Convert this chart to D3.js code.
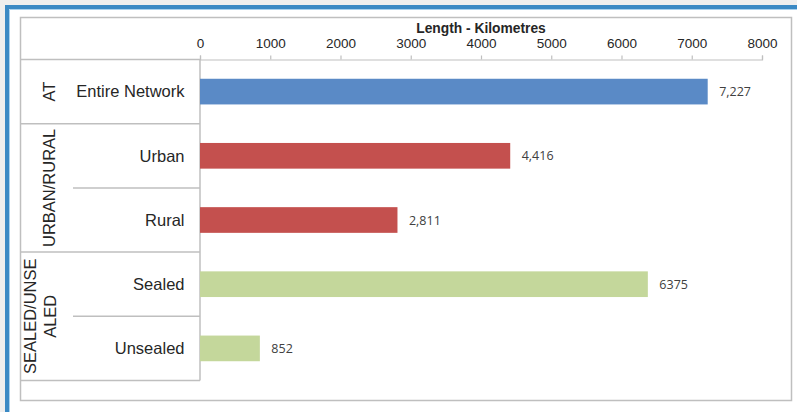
<!DOCTYPE html>
<html>
<head>
<meta charset="utf-8">
<script src="https://cdn.jsdelivr.net/npm/d3@7"></script>
<style>
  html, body { margin: 0; padding: 0; background: #ffffff; }
  svg { display: block; }
</style>
</head>
<body>
<svg id="chart" width="797" height="412"></svg>
<script>
// Road network length by category (km)
const categories = ["Entire Network", "Urban", "Rural", "Sealed", "Unsealed"];
const values = [7227, 4416, 2811, 6375, 852];
const valueLabels = ["7,227", "4,416", "2,811", "6375", "852"];
const seriesGroup = ["AT", "URBAN/RURAL", "URBAN/RURAL", "SEALED/UNSEALED", "SEALED/UNSEALED"];
const groups = ["AT", "URBAN/RURAL", "SEALED/UNSEALED"];
const groupLabelLines = [["AT"], ["URBAN/RURAL"], ["SEALED/UNSE", "ALED"]];
const groupColors = ["#5A8AC6", "#C4504E", "#C4D79B"];
const xTicks = [0, 1000, 2000, 3000, 4000, 5000, 6000, 7000, 8000];
const axisTitle = "Length - Kilometres";

const svg = d3.select("#chart");
const lineColor = "#bfbfbf";

// page frame
svg.append("rect").attr("width", 797).attr("height", 412).attr("fill", "#eeeeee");
svg.append("rect").attr("x", 5).attr("y", 5).attr("width", 792).attr("height", 407).attr("fill", "#ffffff");
svg.append("path").attr("d", "M5,7H797M7,5V412").attr("stroke", "#3a89c4").attr("stroke-width", 4).attr("fill", "none");
svg.append("path").attr("d", "M9.5,9.5H797M9.5,9.5V412").attr("stroke", "#a9d0ec").attr("stroke-width", 1).attr("fill", "none");

// chart area border
svg.append("rect")
  .attr("x", 20.5).attr("y", 17.5).attr("width", 771).attr("height", 383)
  .attr("fill", "#ffffff").attr("stroke", lineColor).attr("stroke-width", 1.5);

const x = d3.scaleLinear().domain([0, 8000]).range([200, 762]);
const y = d3.scaleBand().domain(categories).range([59.5, 380.5]).padding(0);
const barH = y.bandwidth() * 0.4;

// top axis
const axis = svg.append("g")
  .attr("transform", "translate(0,59.5)")
  .call(d3.axisTop(x).tickValues(xTicks).tickSize(4).tickPadding(7.5).tickFormat(d3.format("d")));
axis.select(".domain").attr("stroke", lineColor).attr("stroke-width", 1.2);
axis.selectAll(".tick line").attr("stroke", lineColor).attr("stroke-width", 1.2);
axis.selectAll(".tick text")
  .attr("font-family", "'Liberation Sans', Arial, sans-serif")
  .attr("font-size", 13.5).attr("fill", "#262626");

svg.append("text")
  .attr("x", (x(0) + x(8000)) / 2).attr("y", 32.5)
  .attr("text-anchor", "middle")
  .attr("font-family", "'Liberation Sans', Arial, sans-serif")
  .attr("font-weight", "bold").attr("font-size", 13.8).attr("fill", "#262626")
  .text(axisTitle);

// category table lines
const tbl = svg.append("g").attr("stroke", lineColor).attr("stroke-width", 1.5).attr("fill", "none");
tbl.append("line").attr("x1", 20).attr("x2", 200).attr("y1", 59.5).attr("y2", 59.5);
tbl.append("line").attr("x1", 200).attr("x2", 200).attr("y1", 59.5).attr("y2", 380.5);
groups.forEach(g => {
  const members = categories.filter((c, i) => seriesGroup[i] === g);
  const bottom = y(members[members.length - 1]) + y.bandwidth();
  tbl.append("line").attr("x1", 20).attr("x2", 200).attr("y1", bottom).attr("y2", bottom);
  members.slice(0, -1).forEach(c => {
    const yy = y(c) + y.bandwidth();
    tbl.append("line").attr("x1", 73).attr("x2", 200).attr("y1", yy).attr("y2", yy);
  });
});

// category labels
svg.append("g").selectAll("text").data(categories).join("text")
  .attr("x", 184.5)
  .attr("y", d => y(d) + y.bandwidth() / 2)
  .attr("dy", "0.35em")
  .attr("text-anchor", "end")
  .attr("font-family", "'Liberation Sans', Arial, sans-serif")
  .attr("font-size", 16.5).attr("fill", "#262626")
  .text(d => d);

// group labels (rotated)
groups.forEach((g, gi) => {
  const members = categories.filter((c, i) => seriesGroup[i] === g);
  const top = y(members[0]);
  const bottom = y(members[members.length - 1]) + y.bandwidth();
  const cy = (top + bottom) / 2;
  const lines = groupLabelLines[gi];
  const lh = 20;
  lines.forEach((ln, li) => {
    const cx = lines.length === 1 ? 49 : 30 + li * lh;
    svg.append("text")
      .attr("transform", `translate(${cx},${cy}) rotate(-90)`)
      .attr("dy", "0.35em")
      .attr("text-anchor", "middle")
      .attr("font-family", "'Liberation Sans', Arial, sans-serif")
      .attr("font-size", 16.5).attr("fill", "#262626")
      .text(ln);
  });
});

// bars
const colorOf = i => groupColors[groups.indexOf(seriesGroup[i])];
svg.append("g").selectAll("rect").data(values).join("rect")
  .attr("x", x(0))
  .attr("y", (d, i) => y(categories[i]) + (y.bandwidth() - barH) / 2)
  .attr("width", d => x(d) - x(0))
  .attr("height", barH)
  .attr("fill", (d, i) => colorOf(i));

// value labels
svg.append("g").selectAll("text").data(values).join("text")
  .attr("x", d => x(d) + 11.5)
  .attr("y", (d, i) => y(categories[i]) + y.bandwidth() / 2)
  .attr("dy", "0.36em")
  .attr("font-family", "'Open Sans', sans-serif")
  .attr("font-size", 12.5).attr("fill", "#404040")
  .text((d, i) => valueLabels[i]);
</script>
</body>
</html>
